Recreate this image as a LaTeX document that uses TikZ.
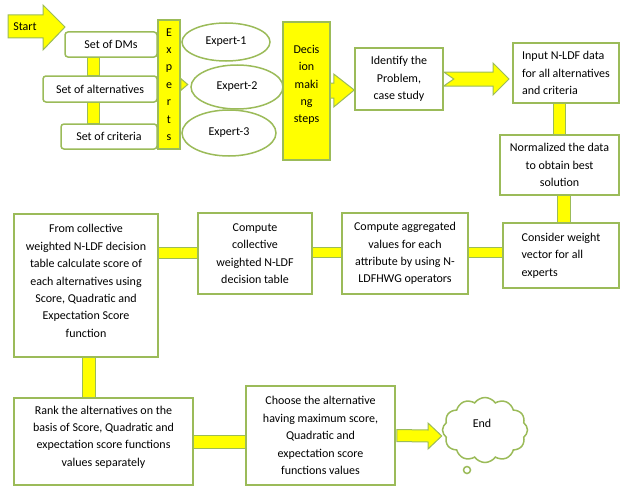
\documentclass[tikz,border=0pt]{standalone}
\usepackage{fontspec}
\setmainfont{Carlito}
\usetikzlibrary{shapes.geometric,shapes.symbols,calc}
\definecolor{gb}{HTML}{9BBB59}
\definecolor{yl}{HTML}{FFFF00}
\tikzset{
  txt/.style={font=\fontsize{12}{17.4}\selectfont, inner sep=0pt, align=center},
  box/.style={txt, draw=gb, line width=1.5pt, fill=white, inner sep=2pt},
  ybox/.style={box, fill=yl},
  bar/.style={draw=gb, line width=1pt, fill=yl, line join=miter},
  ell/.style={txt, ellipse, draw=gb, line width=1.5pt, fill=white},
}
\begin{document}
\begin{tikzpicture}[x=1pt,y=-1pt]
\useasboundingbox (0,0) rectangle (620,487);

% start arrow
\draw[bar] (8,15) -- (43,15) -- (43,5) -- (65,27) -- (43,50) -- (43,38) -- (8,38) -- cycle;
\node[txt] (start) at (25,27) {Start};

% left column
\node[box, rounded corners=3pt, minimum width=92pt, minimum height=25pt] (dms) at (111,44.5) {Set of DMs};
\node[box, rounded corners=3pt, minimum width=114pt, minimum height=26pt] (alt) at (100,89) {Set of alternatives};
\node[box, rounded corners=3pt, minimum width=96pt, minimum height=25pt] (crit) at (109,136.5) {Set of criteria};
\draw[bar] (87,0 |- dms.south) rectangle (99,0 |- alt.north);
\draw[bar] (87,0 |- alt.south) rectangle (99,0 |- crit.north);

% experts
\node[ybox, minimum width=22pt, minimum height=129pt] (experts) at (169,84.5) {E\\x\\p\\e\\r\\t\\s};
\draw[bar] ($(experts.east)+(0,-6)$) -- ($(experts.east)+(7,0)$) -- ($(experts.east)+(0,6)$) -- cycle;
\node[ell, minimum width=88pt, minimum height=38pt] (e1) at (226,42) {Expert-1};
\node[ell, minimum width=92pt, minimum height=44pt] (e2) at (237,87) {Expert-2};
\node[ell, minimum width=94pt, minimum height=46pt] (e3) at (229,133) {Expert-3};

% decision making steps
\node[ybox, minimum width=47pt, minimum height=138pt] (dec) at (306.5,91) {};
\node[txt] (dect) at (306.5,85) {Decis\\ion\\maki\\ng\\steps};

% identify
\node[box, minimum width=88pt, minimum height=62pt] (ident) at (399,79) {Identify the\\Problem,\\case study};
\draw[bar] ($(dec.east)+(0,-8)$) -- ($(dec.east)+(3,-8)$) -- ($(dec.east)+(3,-17)$)
  -- (ident.west |- 0,90) -- ($(dec.east)+(3,16)$) -- ($(dec.east)+(3,7)$) -- ($(dec.east)+(0,7)$);

% input
\node[box, align=left, minimum width=106pt, minimum height=60pt] (input) at (566,73) {Input N-LDF data\\for all alternatives\\and criteria};
\draw[bar] ($(ident.east)+(0,-7)$) -- (493,72) -- (493,63) -- (509,79) -- (493,95) -- (493,86)
  -- ($(ident.east)+(0,7)$) -- ($(ident.east)+(10,0)$) -- cycle;

% normalized
\node[box, minimum width=119pt, minimum height=60pt] (norm) at (559.5,165) {Normalized the data\\to obtain best\\solution};
\draw[bar] (553,0 |- input.south) rectangle (565,0 |- norm.north);

% consider
\node[box, align=left, minimum width=116pt, minimum height=65pt] (cons) at (561,255.5) {Consider weight\\vector for all\\experts};
\draw[bar] (557,0 |- norm.south) rectangle (570,0 |- cons.north);

% aggregated
\node[box, minimum width=126pt, minimum height=81pt] (agg) at (405,253.5) {Compute aggregated\\values for each\\attribute by using N-\\LDFHWG operators};
\draw[bar] (agg.east |- 0,247) rectangle (cons.west |- 0,257);

% collective
\node[box, minimum width=114pt, minimum height=81pt] (coll) at (255,253.5) {Compute\\collective\\weighted N-LDF\\decision table};
\draw[bar] (coll.east |- 0,247) rectangle (agg.west |- 0,257);

% from collective
\node[box, minimum width=144pt, minimum height=143pt] (from) at (86,285.5) {};
\node[txt] (fromt) at (86,281) {From collective\\weighted N-LDF decision\\table calculate score of\\each alternatives using\\Score, Quadratic and\\Expectation Score\\function};
\draw[bar] (from.east |- 0,247) rectangle (coll.west |- 0,258);

% rank
\node[box, minimum width=179pt, minimum height=87pt] (rank) at (103.5,441.5) {};
\node[txt] (rankt) at (103.5,437) {Rank the alternatives on the\\basis of Score, Quadratic and\\expectation score functions\\values separately};
\draw[bar] (82,0 |- from.south) rectangle (95,0 |- rank.north);

% choose
\node[box, minimum width=149pt, minimum height=99pt] (choose) at (320.5,435.5) {Choose the alternative\\having maximum score,\\Quadratic and\\expectation score\\functions values};
\draw[bar] (rank.east |- 0,435) rectangle (choose.west |- 0,448);

% end
\node[cloud, cloud puffs=12, cloud puff arc=110, aspect=1.3, draw=gb, line width=1.5pt, fill=white,
  minimum width=85pt, minimum height=65pt] (endc) at (485,430) {};
\node[txt] (endt) at (482,423) {End};
\draw[gb, line width=1.5pt] (467,470) circle (3.5);
\draw[bar] ($(choose.east)+(1,-6)$) -- (428,430) -- (428,423) -- (endc.west |- 0,436) -- (428,449) -- (428,442) -- ($(choose.east)+(1,6)$) -- cycle;
\end{tikzpicture}
\end{document}
